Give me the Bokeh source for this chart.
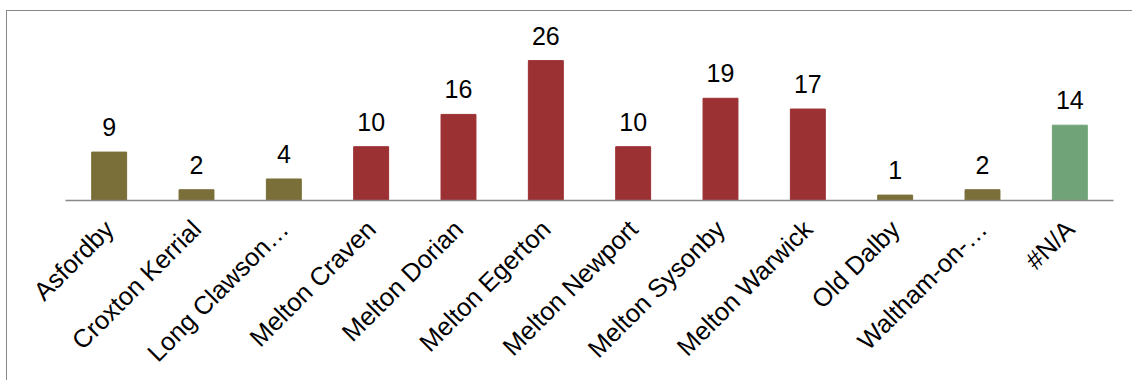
from math import pi

from bokeh.core.properties import value
from bokeh.embed import file_html
from bokeh.models import ColumnDataSource, FactorRange, Range1d
from bokeh.plotting import figure
from bokeh.resources import INLINE

# Count per area
areas = [
    "Asfordby", "Croxton Kerrial", "Long Clawson…", "Melton Craven",
    "Melton Dorian", "Melton Egerton", "Melton Newport", "Melton Sysonby",
    "Melton Warwick", "Old Dalby", "Waltham-on-…", "#N/A",
]
counts = [9, 2, 4, 10, 16, 26, 10, 19, 17, 1, 2, 14]
groups = ["rural", "rural", "rural", "town", "town", "town", "town", "town",
          "town", "rural", "rural", "unknown"]

palette = {"rural": "#7a6e39", "town": "#9c3134", "unknown": "#70a478"}

source = ColumnDataSource(dict(
    area=areas,
    count=counts,
    label=[str(c) for c in counts],
    color=[palette[g] for g in groups],
))

FONT = "Liberation Sans"

p = figure(
    x_range=FactorRange(*areas, range_padding=0),
    y_range=Range1d(0, 34.2),
    width=1126, height=370,
    min_border_left=58, min_border_right=20,
    min_border_top=5, min_border_bottom=181,
    toolbar_location=None, output_backend="svg",
    margin=(10, 0, 0, 6),
    styles={"border-left": "1px solid #888888", "border-top": "1px solid #888888"},
)

p.vbar(x="area", top="count", width=0.4, color="color", source=source)

# value labels, lifted clear of the bar tops
p.text(x="area", y="count", text="label", source=source,
       text_align="center", text_baseline="alphabetic", y_offset=-25,
       text_font=value(FONT), text_font_size="25px", text_color="#000000")

p.xgrid.visible = False
p.ygrid.visible = False
p.yaxis.visible = False
p.outline_line_color = None

xa = p.xaxis[0]
xa.axis_line_color = "#898989"
xa.axis_line_width = 1.5
xa.major_tick_line_color = None
xa.minor_tick_line_color = None
xa.major_label_orientation = pi / 4
xa.major_label_text_font = FONT
xa.major_label_text_font_size = "25.5px"
xa.major_label_text_color = "#000000"
xa.major_label_standoff = 18

open("out.html", "w").write(file_html(p, INLINE))
